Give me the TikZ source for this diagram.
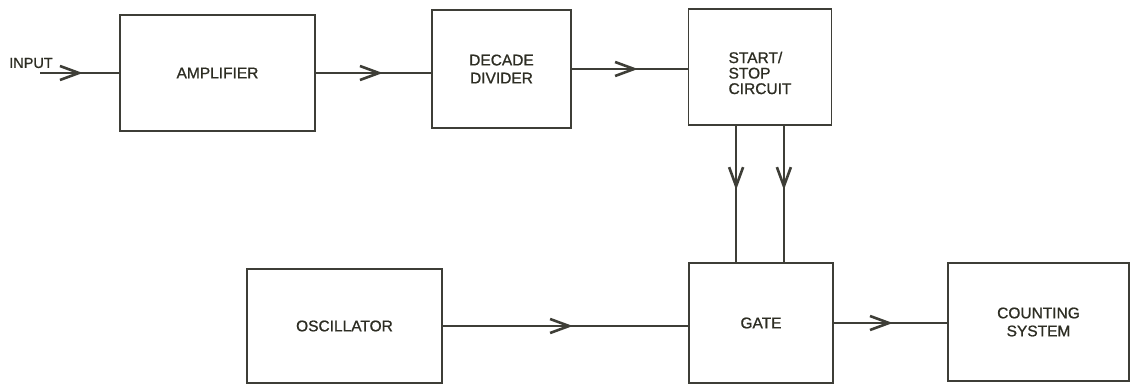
\documentclass[tikz,border=0pt]{standalone}
\usepackage{fontspec}
\setmainfont{Liberation Sans}
\newfontfamily\lbfont{Liberation Sans}[FakeBold=0.9]
\usetikzlibrary{arrows.meta,decorations.markings,calc}
\definecolor{ink}{RGB}{62,62,55}
\definecolor{txt}{RGB}{45,45,35}
\begin{document}
\begin{tikzpicture}[x=1pt,y=-1pt,
  box/.style={draw=ink,line width=1.8pt,inner sep=0pt,text=txt,
    font=\lbfont\fontsize{15.5}{18}\selectfont,align=center},
  lbl/.style={text=txt,font=\lbfont\fontsize{15.5}{15.5}\selectfont,align=left,inner sep=0pt},
  conn/.style={draw=ink,line width=1.8pt},
  midarrow/.style={postaction={decorate,decoration={markings,
    mark=at position #1 with {\arrow{Straight Barb[length=19pt,width=14pt,line width=2.6pt]}}}}}
]
\useasboundingbox (0,0) rectangle (1132,385);
\fill[white] (0,0) rectangle (1132,385);

% boxes
\node[box,minimum width=195pt,minimum height=116pt] (amp) at (217.5,73) {AMPLIFIER};
\node[box,minimum width=139pt,minimum height=118pt] (dec) at (501.5,69) {DECADE\\DIVIDER};
\node[box,minimum width=143pt,minimum height=116pt,
  label={[lbl,yshift=-6pt]center:{START/\\STOP\\CIRCUIT}}] (ss) at (760,67) {};
\node[box,minimum width=195pt,minimum height=114pt] (osc) at (344.5,326) {OSCILLATOR};
\node[box,minimum width=144pt,minimum height=120pt] (gate) at (761,323) {GATE};
\node[box,minimum width=181pt,minimum height=118pt] (cnt) at (1038.5,322) {COUNTING\\SYSTEM};

% input
\node[lbl,font=\lbfont\fontsize{14.5}{16}\selectfont] (inlbl) at (31,63) {INPUT};
\coordinate (in) at (40,73);
\coordinate (s1) at ($(ss.south west)!0.335!(ss.south east)$);
\coordinate (s2) at ($(ss.south west)!0.665!(ss.south east)$);

% connectors
\draw[conn,midarrow=0.54] (in) -- (in -| amp.west);
\draw[conn,midarrow=0.58] (amp.east) -- (amp.east -| dec.west);
\draw[conn,midarrow=0.57] (dec.east) -- (dec.east -| ss.west);
\draw[conn,midarrow=0.47] (s1) -- (s1 |- gate.north);
\draw[conn,midarrow=0.47] (s2) -- (s2 |- gate.north);
\draw[conn,midarrow=0.53] (osc.east) -- (osc.east -| gate.west);
\draw[conn,midarrow=0.52] (gate.east) -- (gate.east -| cnt.west);
\end{tikzpicture}
\end{document}
